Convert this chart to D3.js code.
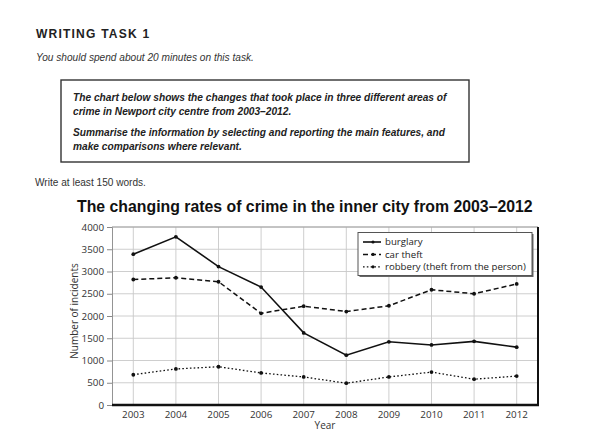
<!DOCTYPE html>
<html><head><meta charset="utf-8">
<script src="https://cdn.jsdelivr.net/npm/d3@7"></script>
<style>html,body{margin:0;padding:0;background:#fff;}svg{display:block;}</style>
</head><body>
<script>
const years = ["2003","2004","2005","2006","2007","2008","2009","2010","2011","2012"];
const burglary = [3390,3780,3110,2650,1620,1120,1420,1350,1430,1300];
const carTheft = [2820,2860,2770,2060,2220,2100,2230,2590,2500,2720];
const robbery  = [680,810,860,720,630,490,630,740,580,650];
const seriesNames = ["burglary","car theft","robbery (theft from the person)"];
const yTicks = [0,500,1000,1500,2000,2500,3000,3500,4000];

const W=600,H=432;
const svg=d3.select("body").append("svg").attr("width",W).attr("height",H);
const hdrFont="'Liberation Sans', Arial, sans-serif";
const chFont="'Open Sans', 'DejaVu Sans', sans-serif";
const ink="#222";

function fitText(sel,targetW){
  const n=sel.node(); const w=n.getComputedTextLength();
  const fs=parseFloat(sel.attr("font-size"));
  sel.attr("font-size",(fs*targetW/w).toFixed(2));
}

// Header
fitText(svg.append("text").attr("x",36).attr("y",38).attr("font-family",hdrFont).attr("font-weight","bold")
  .attr("font-size",14).attr("letter-spacing",1.2).attr("fill",ink).text("WRITING TASK 1"),112);
fitText(svg.append("text").attr("x",36).attr("y",61).attr("font-family",hdrFont).attr("font-style","italic")
  .attr("font-size",11).attr("fill","#333").text("You should spend about 20 minutes on this task."),218);

svg.append("rect").attr("x",61).attr("y",80).attr("width",408).attr("height",82)
  .attr("fill","none").attr("stroke","#333").attr("stroke-width",1.4);
const boxLines=[["The chart below shows the changes that took place in three different areas of",101,374],
  ["crime in Newport city centre from 2003–2012.",115,null],
  ["Summarise the information by selecting and reporting the main features, and",136,372],
  ["make comparisons where relevant.",150,null]];
let boxFs=null;
boxLines.forEach(([t,y,w])=>{
  const s=svg.append("text").attr("x",73).attr("y",y).attr("font-family",hdrFont).attr("font-weight","bold")
    .attr("font-style","italic").attr("font-size",11).attr("fill",ink).text(t);
  if(w){fitText(s,w); boxFs=s.attr("font-size");} else s.attr("font-size",boxFs);
});
fitText(svg.append("text").attr("x",35).attr("y",186).attr("font-family",hdrFont)
  .attr("font-size",11).attr("fill","#333").text("Write at least 150 words."),111);

// Chart title
fitText(svg.append("text").attr("x",77).attr("y",212).attr("font-family",hdrFont).attr("font-weight","bold")
  .attr("font-size",16).attr("fill","#111").text("The changing rates of crime in the inner city from 2003–2012"),456);

// Scales
const L=112,R=538,T=227,B=405;
const x=d3.scaleBand().domain(years).range([L,R]);
const cx=d=>x(d)+x.bandwidth()/2;
const y=d3.scaleLinear().domain([0,4000]).range([B,T]);

// Grid
svg.append("g").selectAll("line").data(yTicks.slice(1)).join("line")
  .attr("x1",L).attr("x2",R).attr("y1",d=>y(d)).attr("y2",d=>y(d))
  .attr("stroke","#c8c8c8").attr("stroke-width",0.9);
svg.append("g").selectAll("line").data(years).join("line")
  .attr("x1",d=>cx(d)).attr("x2",d=>cx(d)).attr("y1",T).attr("y2",B)
  .attr("stroke","#c8c8c8").attr("stroke-width",0.9);

// Y axis
const yAxis=svg.append("g").attr("transform",`translate(${L},0)`)
  .call(d3.axisLeft(y).tickValues(yTicks).tickSize(5).tickPadding(3).tickFormat(d3.format("d")));
yAxis.select(".domain").attr("stroke","#888").attr("stroke-width",0.9);
yAxis.selectAll(".tick line").attr("stroke","#888");
yAxis.selectAll("text").attr("font-family",chFont).attr("font-size",9.8).attr("fill","#333");

// X axis labels
const xAxis=svg.append("g").attr("transform",`translate(0,${B})`)
  .call(d3.axisBottom(x).tickSize(0).tickPadding(6));
xAxis.select(".domain").remove();
xAxis.selectAll("text").attr("font-family",chFont).attr("font-size",9.8).attr("fill","#333");

// Frame
svg.append("line").attr("x1",L).attr("x2",R).attr("y1",T).attr("y2",T).attr("stroke","#999").attr("stroke-width",0.9);
svg.append("line").attr("x1",L).attr("x2",R+1).attr("y1",B).attr("y2",B).attr("stroke","#111").attr("stroke-width",2.4);
svg.append("line").attr("x1",R).attr("x2",R).attr("y1",T).attr("y2",B).attr("stroke","#111").attr("stroke-width",2);

// Axis titles
svg.append("text").attr("x",(L+R)/2).attr("y",429).attr("text-anchor","middle")
  .attr("font-family",chFont).attr("font-size",10).attr("fill","#333").text("Year");
svg.append("text").attr("transform","translate(78,311) rotate(-90)").attr("text-anchor","middle")
  .attr("font-family",chFont).attr("font-size",10).attr("fill","#333").text("Number of incidents");

// Lines
const styles=[{d:null,w:1.6},{d:"5,3",w:1.5},{d:"1.6,2.2",w:1.3}];
const data=[burglary,carTheft,robbery];
const line=d3.line().x((d,i)=>cx(years[i])).y(d=>y(d));
data.forEach((s,k)=>{
  svg.append("path").datum(s).attr("d",line).attr("fill","none").attr("stroke","#111")
    .attr("stroke-width",styles[k].w).attr("stroke-dasharray",styles[k].d);
  svg.append("g").selectAll("circle").data(s).join("circle")
    .attr("cx",(d,i)=>cx(years[i])).attr("cy",d=>y(d)).attr("r",1.9).attr("fill","#111");
});

// Legend
const lg=svg.append("g");
lg.append("rect").attr("x",359.5).attr("y",234).attr("width",174).attr("height",43).attr("fill","#666");
lg.append("rect").attr("x",358).attr("y",232.5).attr("width",174).attr("height",43).attr("fill","#fff")
  .attr("stroke","#555").attr("stroke-width",1);
const lgTexts=[];
seriesNames.forEach((n,k)=>{
  const yy=242+k*12.4;
  lg.append("line").attr("x1",363).attr("x2",381).attr("y1",yy).attr("y2",yy).attr("stroke","#111")
    .attr("stroke-width",styles[k].w).attr("stroke-dasharray",styles[k].d);
  lg.append("circle").attr("cx",373).attr("cy",yy).attr("r",1.6).attr("fill","#111");
  lgTexts.push(lg.append("text").attr("x",385).attr("y",yy+3.3).attr("font-family",chFont).attr("font-size",10)
    .attr("fill","#222").text(n));
});
fitText(lgTexts[2],141);
lgTexts.forEach(t=>t.attr("font-size",lgTexts[2].attr("font-size")));
</script>
</body></html>
